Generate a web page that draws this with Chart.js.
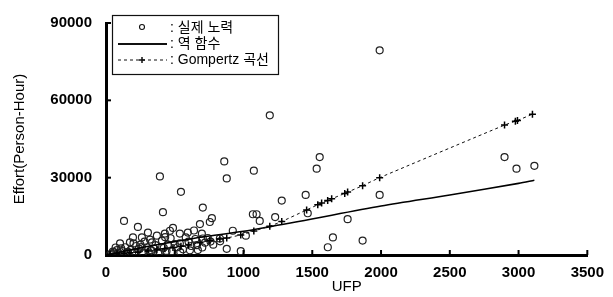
<!DOCTYPE html>
<html>
<head>
<meta charset="utf-8">
<script src="https://cdn.jsdelivr.net/npm/chart.js@4.4.1/dist/chart.umd.min.js"></script>
<style>
html,body{margin:0;padding:0;background:#fff;}
#wrap{width:613px;height:297px;position:relative;}
</style>
</head>
<body>
<div id="wrap"><canvas id="c" width="613" height="297"></canvas></div>
<script>
// ---- data ----
const seriesLabels = ["실제 노력", "역 함수", "Gompertz 곡선"];
const xTitle = "UFP";
const yTitle = "Effort(Person-Hour)";

// actual effort (UFP, Person-Hour)
const actualUFP = [1990,1191,1554,860,392,878,1075,545,414,704,131,1278,1452,1068,1095,1118,1230,770,755,683,878,980,668,
  1532,1467,1990,1757,1650,1613,1866,2898,2985,3115,
  232,305,370,196,261,102,174,465,487,537,595,697,428,407,334,537,80,922,1017,704,828,
  40,60,90,120,150,180,210,240,270,300,330,360,390,420,450,480,520,560,600,620,650,720,760,30,140,250,350,470,580,640,320,220,
  110,160,200,280,310,380,440,500,540,610,660,700,740,780,830,50,70,190,260,430];
const actualEffort = [79400,54200,38000,36300,30500,29700,32700,24500,16600,18400,13200,21100,23300,15800,15800,13200,14700,14300,12800,12000,2400,1500,1900,
  33500,16200,23300,13900,6800,3000,5600,38000,33500,34600,
  10900,8700,7500,6800,6800,4500,4900,9400,10500,8300,8700,8300,8300,5600,4900,4500,1900,9400,7500,6400,6400,
  500,1000,800,1500,700,2000,1200,2500,900,3000,1800,3800,1200,2800,4000,1500,3000,2200,5200,3500,6200,4800,5200,200,3000,4000,2500,6500,6800,9500,6000,3500,
  2600,1200,4500,5200,1000,600,1600,4200,1100,1800,3800,2900,6600,4000,5300,1300,2900,700,3100,6900];

// inverse-function (regression) curve
const invUFP = [0,100,200,300,500,700,1000,1400,2000,2500,3000,3115];
const invEffort = [0,1100,2200,3300,5200,7000,9200,13000,19000,23300,27800,29000];

// Gompertz curve
const gompUFP = [30,80,131,174,232,305,370,428,487,545,600,683,755,828,878,980,1075,1191,1278,1459,1540,1568,1612,1641,1736,1757,1866,1990,2898,2977,2992,3101];
const gompEffort = [300,450,650,850,1100,1550,2000,2400,2900,3400,3900,4800,5600,6200,6600,7800,9300,11200,13000,17500,19500,20200,21100,21800,23900,24400,26900,30000,50400,51900,52200,54600];

const xTicks = [0,500,1000,1500,2000,2500,3000,3500];
const yTicks = [0,30000,60000,90000];

const pts = (xs, ys) => xs.map((x, i) => ({x: x, y: ys[i]}));

const tickFont = {family: "'Liberation Sans', Arial, sans-serif", size: 15, weight: 'bold'};
const titleFont = {family: "'Liberation Sans', Arial, sans-serif", size: 15};
const legendFont = "14px 'Liberation Sans', 'Noto Sans CJK KR', sans-serif";

const extras = {
  id: 'extras',
  afterDatasetsDraw(chart) {
    const ctx = chart.ctx;
    const xs = chart.scales.x, ys = chart.scales.y;
    const ca = chart.chartArea;
    ctx.save();
    // inward tick marks
    ctx.strokeStyle = '#000';
    ctx.lineWidth = 2;
    xTicks.forEach(v => {
      if (v === 0) return;
      const px = xs.getPixelForValue(v);
      ctx.beginPath(); ctx.moveTo(px, ca.bottom); ctx.lineTo(px, ca.bottom - 5); ctx.stroke();
    });
    yTicks.forEach(v => {
      if (v === 0) return;
      const py = ys.getPixelForValue(v);
      ctx.beginPath(); ctx.moveTo(ca.left, py); ctx.lineTo(ca.left + 5, py); ctx.stroke();
    });
    // legend box
    const bx = 112, by = 15, bw = 166, bh = 59;
    ctx.fillStyle = '#fff';
    ctx.fillRect(bx, by, bw, bh);
    ctx.lineWidth = 1.2;
    ctx.strokeStyle = '#111';
    ctx.strokeRect(bx + 0.5, by + 0.5, bw, bh);
    const rows = [28, 44, 60];
    const sx0 = 118, sx1 = 167, sxm = 142;
    // row 1: circle
    ctx.lineWidth = 1.1;
    ctx.beginPath(); ctx.arc(sxm, rows[0] - 1, 2.5, 0, Math.PI * 2); ctx.stroke();
    // row 2: solid line
    ctx.lineWidth = 1.8;
    ctx.beginPath(); ctx.moveTo(sx0, rows[1]); ctx.lineTo(sx1, rows[1]); ctx.stroke();
    // row 3: dashed with cross
    ctx.lineWidth = 1;
    ctx.setLineDash([3, 3]);
    ctx.beginPath(); ctx.moveTo(sx0, rows[2]); ctx.lineTo(sx1, rows[2]); ctx.stroke();
    ctx.setLineDash([]);
    ctx.lineWidth = 1.5;
    ctx.beginPath(); ctx.moveTo(sxm - 3, rows[2]); ctx.lineTo(sxm + 3, rows[2]);
    ctx.moveTo(sxm, rows[2] - 3); ctx.lineTo(sxm, rows[2] + 3); ctx.stroke();
    // texts
    ctx.fillStyle = '#000';
    ctx.font = legendFont;
    ctx.textBaseline = 'middle';
    ctx.textAlign = 'left';
    seriesLabels.forEach((t, i) => ctx.fillText(': ' + t, 170, rows[i]));
    ctx.restore();
  }
};

new Chart(document.getElementById('c'), {
  type: 'scatter',
  data: {
    datasets: [
      {
        label: seriesLabels[0],
        data: pts(actualUFP, actualEffort),
        pointStyle: 'circle',
        pointRadius: 3.5,
        pointBorderWidth: 1.2,
        borderColor: '#222',
        backgroundColor: 'rgba(0,0,0,0)',
        order: 3
      },
      {
        label: seriesLabels[1],
        data: pts(invUFP, invEffort),
        showLine: true,
        borderColor: '#000',
        borderWidth: 1.6,
        pointRadius: 0,
        tension: 0.3,
        order: 2
      },
      {
        label: seriesLabels[2],
        data: pts(gompUFP, gompEffort),
        showLine: true,
        borderColor: '#111',
        borderWidth: 1,
        borderDash: [3, 3],
        pointStyle: 'cross',
        pointRadius: 3.5,
        pointBorderWidth: 1.5,
        pointBorderColor: '#000',
        backgroundColor: '#000',
        tension: 0.2,
        order: 1
      }
    ]
  },
  options: {
    responsive: false,
    animation: false,
    devicePixelRatio: 1,
    layout: {padding: {top: 15, right: 25, left: 0, bottom: 0}},
    plugins: {legend: {display: false}, tooltip: {enabled: false}},
    scales: {
      x: {
        type: 'linear', min: 0, max: 3500,
        afterBuildTicks: s => { s.ticks = xTicks.map(v => ({value: v})); },
        afterFit: s => { s.height = 42; },
        grid: {display: true, drawOnChartArea: false, drawTicks: false},
        border: {display: true, width: 3, color: '#000'},
        ticks: {color: '#000', font: tickFont, padding: 9, maxRotation: 0, callback: v => String(v)},
        title: {display: true, text: xTitle, color: '#000', font: titleFont, padding: {top: 0, bottom: 1}}
      },
      y: {
        type: 'linear', min: 0, max: 90000,
        afterBuildTicks: s => { s.ticks = yTicks.map(v => ({value: v})); },
        afterFit: s => { s.width = 106; },
        grid: {display: true, drawOnChartArea: false, drawTicks: false},
        border: {display: true, width: 3, color: '#000'},
        ticks: {color: '#000', font: tickFont, padding: 14, callback: v => String(v)},
        title: {display: true, text: yTitle, color: '#000', font: titleFont, padding: {top: 11, bottom: 0}}
      }
    }
  },
  plugins: [extras]
});
</script>
</body>
</html>
